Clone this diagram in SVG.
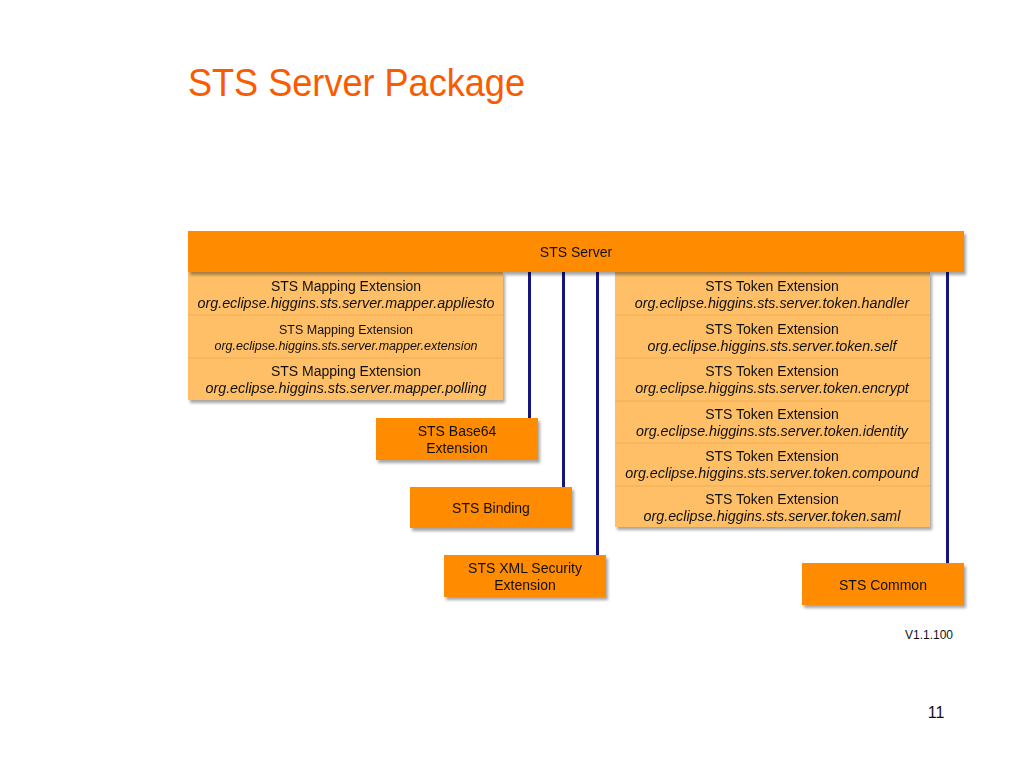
<svg xmlns="http://www.w3.org/2000/svg" width="1024" height="768" viewBox="0 0 1024 768">
<defs>
<filter id="sh" x="-10%" y="-10%" width="130%" height="140%">
<feDropShadow dx="2" dy="3" stdDeviation="1.5" flood-color="#000" flood-opacity="0.35"/>
</filter>
</defs>
<style>
.dark{fill:#FF8C00}
.light{fill:#FFBF66}
.div{stroke:#F0AE55;stroke-width:1}
.t{font-family:"Liberation Sans",Arial,sans-serif;font-size:14px;fill:#111;text-anchor:middle}
.i{font-style:italic;font-size:14.3px}
.s{font-size:12.5px}
.c{stroke:#141480;stroke-width:3;fill:none}
</style>
<rect width="1024" height="768" fill="#fff"/>
<text x="188" y="96" font-family="'Liberation Sans',Arial,sans-serif" font-size="38" fill="#FA5A00" textLength="337" lengthAdjust="spacingAndGlyphs">STS Server Package</text>

<g id="connectors">
<line class="c" x1="529.5" y1="272" x2="529.5" y2="418"/>
<line class="c" x1="563.5" y1="272" x2="563.5" y2="487"/>
<line class="c" x1="597.5" y1="272" x2="597.5" y2="555"/>
<line class="c" x1="947.5" y1="272" x2="947.5" y2="563"/>
</g>

<g id="mapping" filter="url(#sh)">
<rect class="light" x="188" y="272" width="315" height="128"/>
<line class="div" x1="188" y1="315" x2="503" y2="315"/>
<line class="div" x1="188" y1="358" x2="503" y2="358"/>
<text class="t" x="346" y="291">STS Mapping Extension</text>
<text class="t i" x="346" y="308">org.eclipse.higgins.sts.server.mapper.appliesto</text>
<text class="t s" x="346" y="334">STS Mapping Extension</text>
<text class="t i s" x="346" y="350">org.eclipse.higgins.sts.server.mapper.extension</text>
<text class="t" x="346" y="376">STS Mapping Extension</text>
<text class="t i" x="346" y="393">org.eclipse.higgins.sts.server.mapper.polling</text>
</g>

<g id="token" filter="url(#sh)">
<rect class="light" x="615" y="272" width="315" height="255"/>
<line class="div" x1="615" y1="315" x2="930" y2="315"/>
<line class="div" x1="615" y1="358" x2="930" y2="358"/>
<line class="div" x1="615" y1="401" x2="930" y2="401"/>
<line class="div" x1="615" y1="443" x2="930" y2="443"/>
<line class="div" x1="615" y1="486" x2="930" y2="486"/>
<text class="t" x="772" y="291">STS Token Extension</text>
<text class="t i" x="772" y="308">org.eclipse.higgins.sts.server.token.handler</text>
<text class="t" x="772" y="334">STS Token Extension</text>
<text class="t i" x="772" y="351">org.eclipse.higgins.sts.server.token.self</text>
<text class="t" x="772" y="376">STS Token Extension</text>
<text class="t i" x="772" y="393">org.eclipse.higgins.sts.server.token.encrypt</text>
<text class="t" x="772" y="419">STS Token Extension</text>
<text class="t i" x="772" y="436">org.eclipse.higgins.sts.server.token.identity</text>
<text class="t" x="772" y="461">STS Token Extension</text>
<text class="t i" x="772" y="478">org.eclipse.higgins.sts.server.token.compound</text>
<text class="t" x="772" y="504">STS Token Extension</text>
<text class="t i" x="772" y="521">org.eclipse.higgins.sts.server.token.saml</text>
</g>

<g id="server" filter="url(#sh)">
<rect class="dark" x="188" y="231" width="776" height="41"/>
<text class="t" x="576" y="257">STS Server</text>
</g>

<g id="base64" filter="url(#sh)">
<rect class="dark" x="376" y="418" width="162" height="42"/>
<text class="t" x="457" y="436">STS Base64</text>
<text class="t" x="457" y="453">Extension</text>
</g>

<g id="binding" filter="url(#sh)">
<rect class="dark" x="410" y="487" width="162" height="41"/>
<text class="t" x="491" y="513">STS Binding</text>
</g>

<g id="xmlsec" filter="url(#sh)">
<rect class="dark" x="444" y="555" width="162" height="42"/>
<text class="t" x="525" y="573">STS XML Security</text>
<text class="t" x="525" y="590">Extension</text>
</g>

<g id="common" filter="url(#sh)">
<rect class="dark" x="802" y="563" width="162" height="42"/>
<text class="t" x="883" y="590">STS Common</text>
</g>

<text x="929" y="639" font-family="'Liberation Sans',Arial,sans-serif" font-size="12" fill="#111" text-anchor="middle">V1.1.100</text>
<text x="936" y="718" font-family="'Liberation Sans',Arial,sans-serif" font-size="16" fill="#111" text-anchor="middle">11</text>
</svg>
